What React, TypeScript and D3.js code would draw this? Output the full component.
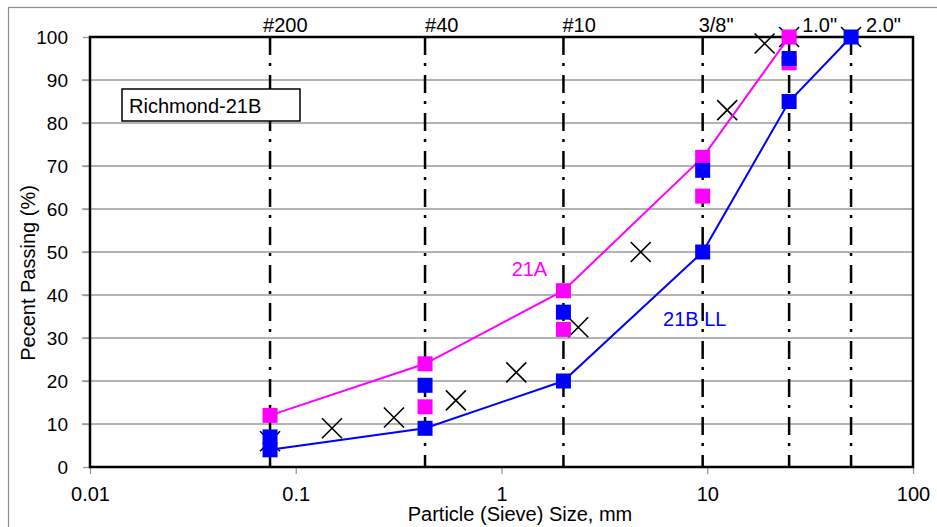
import { useEffect, useRef } from "react";
import * as d3 from "d3";

// sieve openings (mm) drawn as dash-dot guides
const sieveSizes = [0.075, 0.425, 2.0, 9.5, 25, 50];
const sieveLabels = ["#200", "#40", "#10", '3/8"', '1.0"', '2.0"'];
const sieveLabelNudge = [-7, 0, -1, -4, 13, 15];

// 21A gradation (magenta line)
const a21Sizes = [0.075, 0.425, 2.0, 9.5, 25];
const a21Passing = [12, 24, 41, 72, 100];
// 21B LL gradation (blue line)
const b21Sizes = [0.075, 0.425, 2.0, 9.5, 25, 50];
const b21Passing = [4, 9, 20, 50, 85, 100];

// loose sample points, no line
const a21SampleSizes = [0.425, 2.0, 9.5, 25];
const a21SamplePassing = [14, 32, 63, 94];
const b21SampleSizes = [0.075, 0.425, 2.0, 9.5, 25];
const b21SamplePassing = [7, 19, 36, 69, 95];

// Richmond-21B gradation (black crosses)
const richSizes = [0.075, 0.15, 0.3, 0.6, 1.18, 2.36, 4.75, 12.5, 19, 25, 50];
const richPassing = [6, 9, 11.5, 15.5, 22, 32.5, 50, 83, 98.5, 100, 100];

const xTicks = [0.01, 0.1, 1, 10, 100];
const yTicks = [0, 10, 20, 30, 40, 50, 60, 70, 80, 90, 100];

const FONT = "'Liberation Sans', Arial, Helvetica, sans-serif";

export default function App() {
  const ref = useRef<SVGSVGElement>(null);

  useEffect(() => {
    const svg = d3.select(ref.current);
    svg.selectAll("*").remove();

    const width = 937;
    const height = 527;
    const margin = { top: 37, right: 24, bottom: 60, left: 90 };
    const innerWidth = width - margin.left - margin.right;
    const innerHeight = height - margin.top - margin.bottom;

    svg.attr("width", width).attr("height", height);

    // outer chart area border
    svg.append("rect")
      .attr("x", 8.5)
      .attr("y", 7.5)
      .attr("width", 960)
      .attr("height", 560)
      .attr("fill", "#fff")
      .attr("stroke", "#8c8c8c")
      .attr("stroke-width", 1.2);

    const chart = svg.append("g")
      .attr("transform", `translate(${margin.left},${margin.top})`);

    const x = d3.scaleLog().domain([0.01, 100]).range([0, innerWidth]);
    const y = d3.scaleLinear().domain([0, 100]).range([innerHeight, 0]);

    // gridlines
    chart.append("g")
      .selectAll("line")
      .data(yTicks.slice(1, -1))
      .join("line")
      .attr("x1", -8)
      .attr("x2", innerWidth)
      .attr("y1", d => y(d))
      .attr("y2", d => y(d))
      .attr("stroke", "#9a9a9a")
      .attr("stroke-width", 1.3);

    // y axis
    const yAxis = chart.append("g")
      .call(d3.axisLeft(y).tickValues(yTicks).tickSize(7).tickPadding(15));
    yAxis.select(".domain").remove();
    yAxis.selectAll("line").attr("stroke", "#9a9a9a").attr("stroke-width", 1.3);
    yAxis.selectAll("text")
      .style("font-family", FONT)
      .style("font-size", "19px")
      .attr("fill", "#000");

    // x axis
    const xAxis = chart.append("g")
      .attr("transform", `translate(0,${innerHeight})`)
      .call(d3.axisBottom(x).tickValues(xTicks).tickFormat(d => String(d)).tickSize(7).tickPadding(13));
    xAxis.select(".domain").remove();
    xAxis.selectAll("line").attr("stroke", "#9a9a9a").attr("stroke-width", 1.3);
    xAxis.selectAll("text")
      .style("font-family", FONT)
      .style("font-size", "20px")
      .attr("fill", "#000");

    // sieve dash-dot lines
    chart.append("g")
      .selectAll("line")
      .data(sieveSizes)
      .join("line")
      .attr("x1", d => x(d))
      .attr("x2", d => x(d))
      .attr("y1", y(100))
      .attr("y2", y(0))
      .attr("stroke", "#000")
      .attr("stroke-width", 2.5)
      .attr("stroke-dasharray", "18,8,3,9");

    chart.append("g")
      .selectAll("text")
      .data(sieveSizes)
      .join("text")
      .attr("x", (d, i) => x(d) + sieveLabelNudge[i])
      .attr("y", -5)
      .text((d, i) => sieveLabels[i])
      .style("font-family", FONT)
      .style("font-size", "20px")
      .attr("fill", "#000");

    // plot frame
    chart.append("rect")
      .attr("x", 0)
      .attr("y", 0)
      .attr("width", innerWidth)
      .attr("height", innerHeight)
      .attr("fill", "none")
      .attr("stroke", "#000")
      .attr("stroke-width", 2.5);

    // title box
    chart.append("rect")
      .attr("x", 32)
      .attr("y", 52)
      .attr("width", 178)
      .attr("height", 32)
      .attr("fill", "#fff")
      .attr("stroke", "#000")
      .attr("stroke-width", 1.5);
    chart.append("text")
      .attr("x", 39)
      .attr("y", 76)
      .text("Richmond-21B")
      .style("font-family", FONT)
      .style("font-size", "20px")
      .attr("fill", "#000");

    // crosses
    const cross = 10;
    const crosses = chart.append("g")
      .attr("stroke", "#000")
      .attr("stroke-width", 1.6);
    richSizes.forEach((s, i) => {
      const cx = x(s);
      const cy = y(richPassing[i]);
      crosses.append("path")
        .attr("d", `M${cx - cross},${cy - cross}L${cx + cross},${cy + cross}M${cx - cross},${cy + cross}L${cx + cross},${cy - cross}`);
    });

    const sq = 15;
    const drawSeries = (sizes: number[], passing: number[], color: string, withLine: boolean) => {
      const pts: [number, number][] = sizes.map((s, i) => [x(s), y(passing[i])]);
      if (withLine) {
        chart.append("path")
          .attr("d", d3.line()(pts))
          .attr("fill", "none")
          .attr("stroke", color)
          .attr("stroke-width", 2);
      }
      chart.append("g")
        .selectAll("rect")
        .data(pts)
        .join("rect")
        .attr("x", d => d[0] - sq / 2)
        .attr("y", d => d[1] - sq / 2)
        .attr("width", sq)
        .attr("height", sq)
        .attr("fill", color);
    };

    drawSeries(a21Sizes, a21Passing, "#ff00ff", true);
    drawSeries(b21Sizes, b21Passing, "#0000ff", true);
    drawSeries(a21SampleSizes, a21SamplePassing, "#ff00ff", false);
    drawSeries(b21SampleSizes, b21SamplePassing, "#0000ff", false);

    // series labels
    chart.append("text")
      .attr("x", x(1.12))
      .attr("y", y(44.4))
      .text("21A")
      .style("font-family", FONT)
      .style("font-size", "20px")
      .attr("fill", "#ff00ff");
    chart.append("text")
      .attr("x", x(6.1))
      .attr("y", y(32.8))
      .text("21B LL")
      .style("font-family", FONT)
      .style("font-size", "20px")
      .attr("fill", "#0000ff");

    // axis titles
    svg.append("text")
      .attr("x", 520)
      .attr("y", 521)
      .attr("text-anchor", "middle")
      .text("Particle (Sieve) Size, mm")
      .style("font-family", FONT)
      .style("font-size", "20px")
      .attr("fill", "#000");
    svg.append("text")
      .attr("transform", "translate(35,273) rotate(-90)")
      .attr("text-anchor", "middle")
      .text("Pecent Passing (%)")
      .style("font-family", FONT)
      .style("font-size", "20px")
      .attr("fill", "#000");
  }, []);

  return <svg ref={ref} style={{ position: "absolute", left: 0, top: 0 }}></svg>;
}
